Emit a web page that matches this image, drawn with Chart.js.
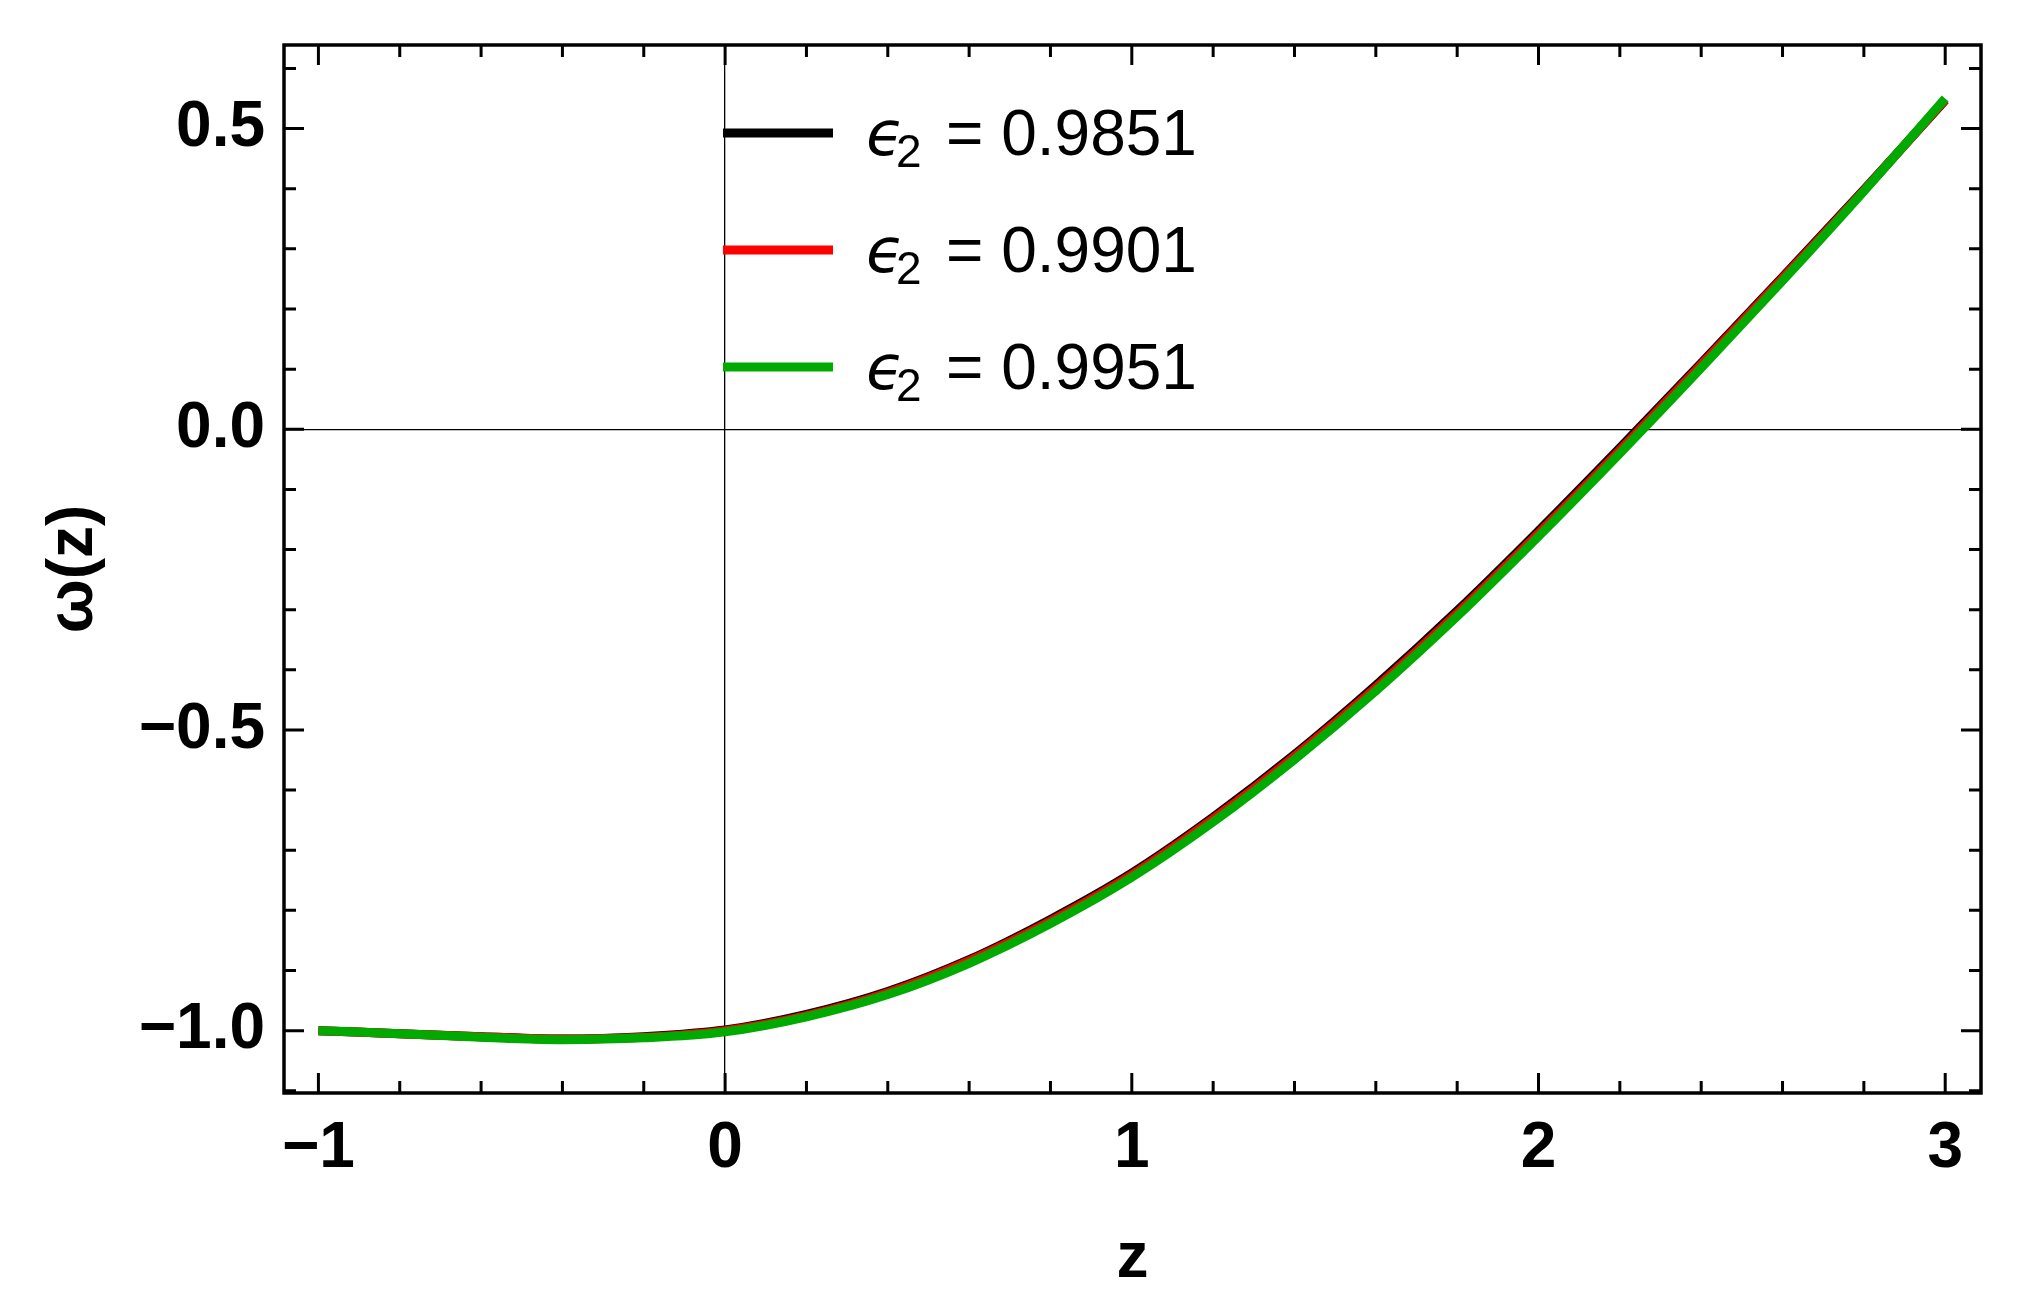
<!DOCTYPE html>
<html lang="en">
<head>
<meta charset="UTF-8">
<title>ω(z) vs z</title>
<script src="https://cdn.jsdelivr.net/npm/chart.js"></script>
<style>
  html, body { margin: 0; padding: 0; background: #fff; }
  canvas { display: block; }
</style>
</head>
<body>
<canvas id="wChart" width="2021" height="1309"></canvas>
<script>
// values
const zValues = [-1.0, -0.8, -0.6, -0.4, -0.2, 0.0, 0.2, 0.4, 0.6, 0.8, 1.0,
                 1.2, 1.4, 1.6, 1.8, 2.0, 2.2, 2.4, 2.6, 2.8, 3.0];
const wEps9851 = [-1.000, -1.005, -1.010, -1.014, -1.010, -0.999, -0.973, -0.935, -0.882, -0.815, -0.738,
                  -0.645, -0.541, -0.426, -0.302, -0.169, -0.031, 0.110, 0.253, 0.398, 0.547];
const wEps9901 = [-1.000, -1.005, -1.010, -1.014, -1.011, -1.000, -0.975, -0.937, -0.884, -0.818, -0.741,
                  -0.648, -0.544, -0.430, -0.306, -0.173, -0.035, 0.107, 0.251, 0.397, 0.548];
const wEps9951 = [-1.000, -1.005, -1.011, -1.015, -1.012, -1.002, -0.977, -0.940, -0.888, -0.822, -0.745,
                  -0.653, -0.549, -0.435, -0.311, -0.178, -0.040, 0.102, 0.247, 0.396, 0.550];
const epsLabels = ['0.9851', '0.9901', '0.9951'];
const lineColors = ['#000000', '#ff0000', '#00aa00'];

const xTickValues = [-1, 0, 1, 2, 3];
const xTickLabels = ['\u22121', '0', '1', '2', '3'];
const yTickValues = [-1.0, -0.5, 0.0, 0.5];
const yTickLabels = ['\u22121.0', '\u22120.5', '0.0', '0.5'];

const tickFont = { family: "'Liberation Sans', Arial, sans-serif", weight: 'bold', size: 64 };

function toPoints(ys) {
    return zValues.map((z, i) => ({ x: z, y: ys[i] }));
}

const seriesList = [wEps9851, wEps9901, wEps9951];
const datasets = seriesList.map((ys, i) => ({
    label: '\u03f52 = ' + epsLabels[i],
    data: toPoints(ys),
    borderColor: lineColors[i],
    borderWidth: 9,
    borderCapStyle: 'butt',
    pointRadius: 0,
    cubicInterpolationMode: 'monotone',
    fill: false,
    order: seriesList.length - i   // last series (green) ends up on top
}));

// Mathematica style frame with inward ticks on all four sides
const framePlugin = {
    id: 'frame',
    afterDraw(chart) {
        const { ctx, chartArea: a, scales: { x, y } } = chart;
        ctx.save();
        ctx.strokeStyle = '#000';
        ctx.lineWidth = 3;
        ctx.beginPath();
        for (let i = -5; i <= 15; i++) {
            const px = x.getPixelForValue(i * 0.2);
            const len = (i % 5 === 0) ? 20 : 12;
            ctx.moveTo(px, a.bottom); ctx.lineTo(px, a.bottom - len);
            ctx.moveTo(px, a.top); ctx.lineTo(px, a.top + len);
        }
        for (let i = -11; i <= 6; i++) {
            const py = y.getPixelForValue(i / 10);
            const len = (i % 5 === 0) ? 20 : 12;
            ctx.moveTo(a.left, py); ctx.lineTo(a.left + len, py);
            ctx.moveTo(a.right, py); ctx.lineTo(a.right - len, py);
        }
        ctx.stroke();
        ctx.lineWidth = 3.5;
        ctx.strokeRect(a.left, a.top, a.right - a.left, a.bottom - a.top);
        ctx.restore();
    }
};

// legend drawn inside the plot, with a real subscript
const legendPlugin = {
    id: 'insideLegend',
    afterDraw(chart) {
        const ctx = chart.ctx;
        ctx.save();
        chart.data.datasets.forEach((ds, i) => {
            const ly = 133 + i * 117;
            ctx.strokeStyle = ds.borderColor;
            ctx.lineWidth = 9;
            ctx.lineCap = 'butt';
            ctx.beginPath();
            ctx.moveTo(723, ly);
            ctx.lineTo(833, ly);
            ctx.stroke();

            ctx.fillStyle = '#000';
            ctx.textBaseline = 'alphabetic';
            ctx.textAlign = 'left';
            ctx.font = "italic 62px 'DejaVu Sans', sans-serif";
            ctx.fillText('\u03f5', 866, ly + 22);
            ctx.font = "46px 'Liberation Sans', Arial, sans-serif";
            ctx.fillText('2', 896, ly + 34);
            ctx.font = "64px 'Liberation Sans', Arial, sans-serif";
            ctx.fillText('= ' + epsLabels[i], 946, ly + 22);
        });
        ctx.restore();
    }
};

const zeroLine = (c) => (c.tick && c.tick.value === 0) ? '#000' : 'rgba(0,0,0,0)';

new Chart(document.getElementById('wChart'), {
    type: 'line',
    data: { datasets: datasets },
    options: {
        responsive: false,
        animation: false,
        devicePixelRatio: 1,
        layout: { padding: { top: 45, right: 40, bottom: 0, left: 0 } },
        plugins: { legend: { display: false }, tooltip: { enabled: false } },
        scales: {
            x: {
                type: 'linear',
                min: -1.0846,
                max: 3.088,
                afterBuildTicks: (s) => { s.ticks = xTickValues.map(v => ({ value: v })); },
                afterFit: (s) => { s.height = 216; s.paddingLeft = 0; s.paddingRight = 0; },
                grid: { color: zeroLine, lineWidth: 1.3, drawTicks: false },
                border: { display: false },
                ticks: {
                    color: '#000',
                    font: tickFont,
                    padding: 18,
                    maxRotation: 0,
                    autoSkip: false,
                    callback: (v) => xTickLabels[xTickValues.indexOf(v)]
                },
                title: {
                    display: true,
                    text: 'z',
                    color: '#000',
                    font: tickFont,
                    padding: { top: 0, bottom: 11 }
                }
            },
            y: {
                type: 'linear',
                min: -1.1037,
                max: 0.639,
                afterBuildTicks: (s) => { s.ticks = yTickValues.map(v => ({ value: v })); },
                afterFit: (s) => { s.width = 284; s.paddingTop = 0; s.paddingBottom = 0; },
                grid: { color: zeroLine, lineWidth: 1.3, drawTicks: false },
                border: { display: false },
                ticks: {
                    color: '#000',
                    font: tickFont,
                    padding: 19,
                    autoSkip: false,
                    callback: (v) => yTickLabels[yTickValues.indexOf(v)]
                },
                title: {
                    display: true,
                    text: '\u03c9(z)',
                    color: '#000',
                    font: tickFont,
                    padding: { top: 36, bottom: 0 }
                }
            }
        }
    },
    plugins: [framePlugin, legendPlugin]
});
</script>
</body>
</html>
